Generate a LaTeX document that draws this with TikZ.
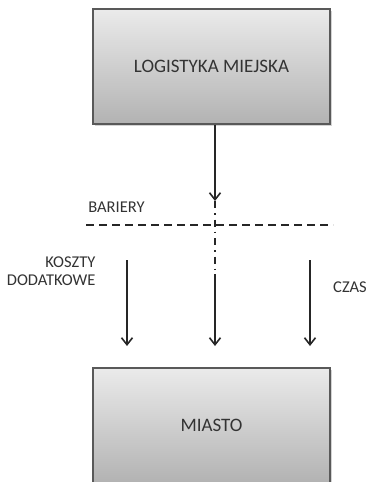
\documentclass[tikz,border=0pt]{standalone}
\usepackage{fontspec}
\setmainfont{Carlito}
\usetikzlibrary{shadows,arrows.meta}

\tikzset{
	blok/.style={draw=black!65, line width=1.2pt, top color=black!8, bottom color=black!30,
		minimum width=237pt, minimum height=115pt, text=black!80, font=\fontsize{19}{22}\selectfont,
		drop shadow={shadow xshift=1.5pt, shadow yshift=-1.5pt, opacity=.35}},
	etykieta/.style={text=black!80, font=\fontsize{16.5}{18}\selectfont, align=right},
	strzalka/.style={-{Straight Barb[length=7pt,width=11pt]}, line width=1.6pt, black!85}
}

\begin{document}
\begin{tikzpicture}[x=1pt, y=-1pt]
	\useasboundingbox (0,0) rectangle (367,482);

	\node[blok] (logistyka) at (211.5, 66.5) {LOGISTYKA MIEJSKA};
	\node[blok] (miasto) at (211.5, 425.5) {MIASTO};

	\coordinate (g_1) at (215, 201);
	\coordinate (g_2) at (215, 269);
	\coordinate (b_l) at (86, 225);
	\coordinate (b_p) at (333, 225);

	\foreach \x/\n in {127/1, 215/2, 310/3}
	{
		\coordinate (s_\n) at (\x, 260);
		\coordinate (k_\n) at (\x, 346);
	}
	\coordinate (s_2) at (215, 274);

	\node[etykieta] (bariery) at (116.5, 207) {BARIERY};
	\node[etykieta, anchor=east] (koszty) at (99, 271) {KOSZTY\\DODATKOWE};
	\node[etykieta] (czas) at (350, 287) {CZAS};

	\draw [strzalka] (logistyka.south -| g_1) to (g_1);
	\draw [black!85, line width=1.6pt, dash pattern=on 8pt off 5pt] (b_l) to (b_p);
	\draw [black!85, line width=1.6pt, dash pattern=on 7pt off 5pt on 1.5pt off 5pt] (g_1) to (g_2);

	\foreach \n in {1,2,3}
	{
		\draw [strzalka] (s_\n) to (k_\n);
	}
\end{tikzpicture}
\end{document}
